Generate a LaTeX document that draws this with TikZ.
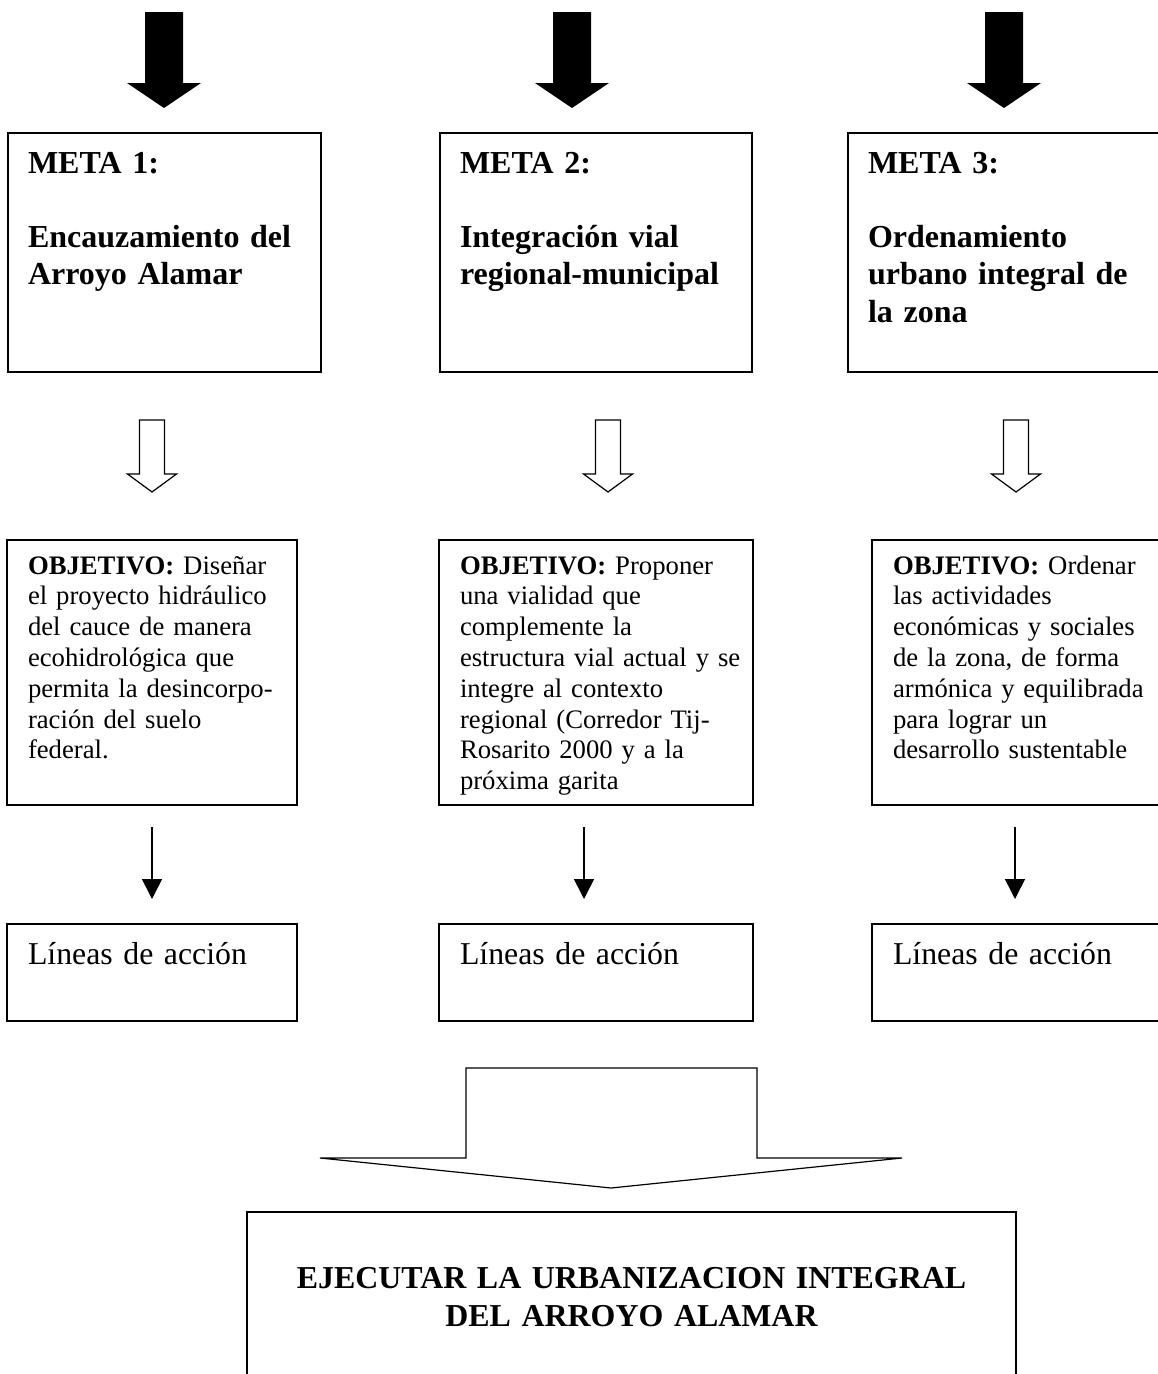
\documentclass[tikz,border=0pt]{standalone}
\usepackage{fontspec}
\setmainfont{Liberation Serif}
\usetikzlibrary{arrows.meta}
\newcommand\fmeta{\fontsize{32}{37.3}\selectfont\bfseries}
\newcommand\fobj{\fontsize{26.7}{30.8}\selectfont}
\newcommand\flin{\fontsize{31.8}{37}\selectfont}
\newcommand\ffin{\fontsize{31.9}{38}\selectfont\bfseries}
\tikzset{
  box/.style={draw, line width=1.5pt, rectangle, anchor=north west, inner sep=0pt, outer sep=0pt},
  txt/.style={anchor=base west, inner sep=0pt, outer sep=0pt, align=left, text width=320pt},
  thinarrow/.style={line width=1.5pt, -{Triangle[width=20pt,length=20pt]}},
  fatdown/.pic={\fill (0,0) -- (37,-25) -- (19,-25) -- (19,-96) -- (-19,-96) -- (-19,-25) -- (-37,-25) -- cycle;},
  hollowdown/.pic={\draw[line width=1.2pt, fill=white, line join=miter] (0,0) -- (24.5,-18) -- (12.5,-18) -- (12.5,-72) -- (-12.5,-72) -- (-12.5,-18) -- (-24.5,-18) -- cycle;}
}
\begin{document}
\begin{tikzpicture}[x=1pt,y=-1pt]
\useasboundingbox (0,0) rectangle (1158,1374);
\clip (0,0) rectangle (1158,1374);
\fill[white] (0,0) rectangle (1158,1374);

% META boxes
\node[box, minimum width=313, minimum height=239] (m1) at (8,133) {};
\node[box, minimum width=312, minimum height=239] (m2) at (440,133) {};
\node[box, minimum width=322, minimum height=239] (m3) at (848,133) {};
\node[txt, font=\fmeta] (m1t) at (28,173) {META 1:\\[37.3pt]Encauzamiento del\\Arroyo Alamar};
\node[txt, font=\fmeta] (m2t) at (460,173) {META 2:\\[37.3pt]Integración vial\\regional-municipal};
\node[txt, font=\fmeta] (m3t) at (868,173) {META 3:\\[37.3pt]Ordenamiento\\urbano integral de\\la zona};

% top black arrows
\path ([yshift=25pt]m1.north -| 164,0) coordinate (b1);
\path ([yshift=25pt]m2.north -| 572,0) coordinate (b2);
\path ([yshift=25pt]m3.north -| 1004,0) coordinate (b3);
\pic at (b1) {fatdown};
\pic at (b2) {fatdown};
\pic at (b3) {fatdown};

% OBJETIVO boxes
\node[box, minimum width=290, minimum height=265] (o1) at (7,540) {};
\node[box, minimum width=314, minimum height=265] (o2) at (439,540) {};
\node[box, minimum width=298, minimum height=265] (o3) at (872,540) {};
\node[txt, font=\fobj] (o1t) at (28,574) {\textbf{OBJETIVO:} Diseñar\\el proyecto hidráulico\\del cauce de manera\\ecohidrológica que\\permita la desincorpo-\\ración del suelo\\federal.};
\node[txt, font=\fobj] (o2t) at (460,574) {\textbf{OBJETIVO:} Proponer\\una vialidad que\\complemente la\\estructura vial actual y se\\integre al contexto\\regional (Corredor Tij-\\Rosarito 2000 y a la\\próxima garita};
\node[txt, font=\fobj] (o3t) at (893,574) {\textbf{OBJETIVO:} Ordenar\\las actividades\\económicas y sociales\\de la zona, de forma\\armónica y equilibrada\\para lograr un\\desarrollo sustentable};

% hollow arrows
\path ([yshift=48pt]o1.north -| 152,0) coordinate (h1);
\path ([yshift=48pt]o2.north -| 608,0) coordinate (h2);
\path ([yshift=48pt]o3.north -| 1016,0) coordinate (h3);
\pic at (h1) {hollowdown};
\pic at (h2) {hollowdown};
\pic at (h3) {hollowdown};

% Lineas de accion boxes
\node[box, minimum width=290, minimum height=97] (l1) at (7,924) {};
\node[box, minimum width=314, minimum height=97] (l2) at (439,924) {};
\node[box, minimum width=298, minimum height=97] (l3) at (872,924) {};
\node[txt, font=\flin] (l1t) at (28,964) {Líneas de acción};
\node[txt, font=\flin] (l2t) at (460,964) {Líneas de acción};
\node[txt, font=\flin] (l3t) at (893,964) {Líneas de acción};

% thin arrows
\draw[thinarrow, shorten <=22pt, shorten >=25pt] (o1.south -| 152,0) -- (l1.north -| 152,0);
\draw[thinarrow, shorten <=22pt, shorten >=25pt] (o2.south -| 584,0) -- (l2.north -| 584,0);
\draw[thinarrow, shorten <=22pt, shorten >=25pt] (o3.south -| 1015,0) -- (l3.north -| 1015,0);

% final box
\node[box, minimum width=769, minimum height=220] (f) at (247,1212) {};
\node[anchor=base, inner sep=0pt, align=center, text width=740pt, font=\ffin] (ft) at (631.5,1288) {EJECUTAR LA URBANIZACION INTEGRAL\\DEL ARROYO ALAMAR};

% big hollow arrow
\path ([yshift=24pt]f.north -| 611,0) coordinate (bt);
\draw[line width=1.2pt, line join=miter] (bt) -- (902,1158) -- (757,1158) -- (757,1068) -- (466,1068) -- (466,1158) -- (320,1158) -- cycle;
\end{tikzpicture}
\end{document}
